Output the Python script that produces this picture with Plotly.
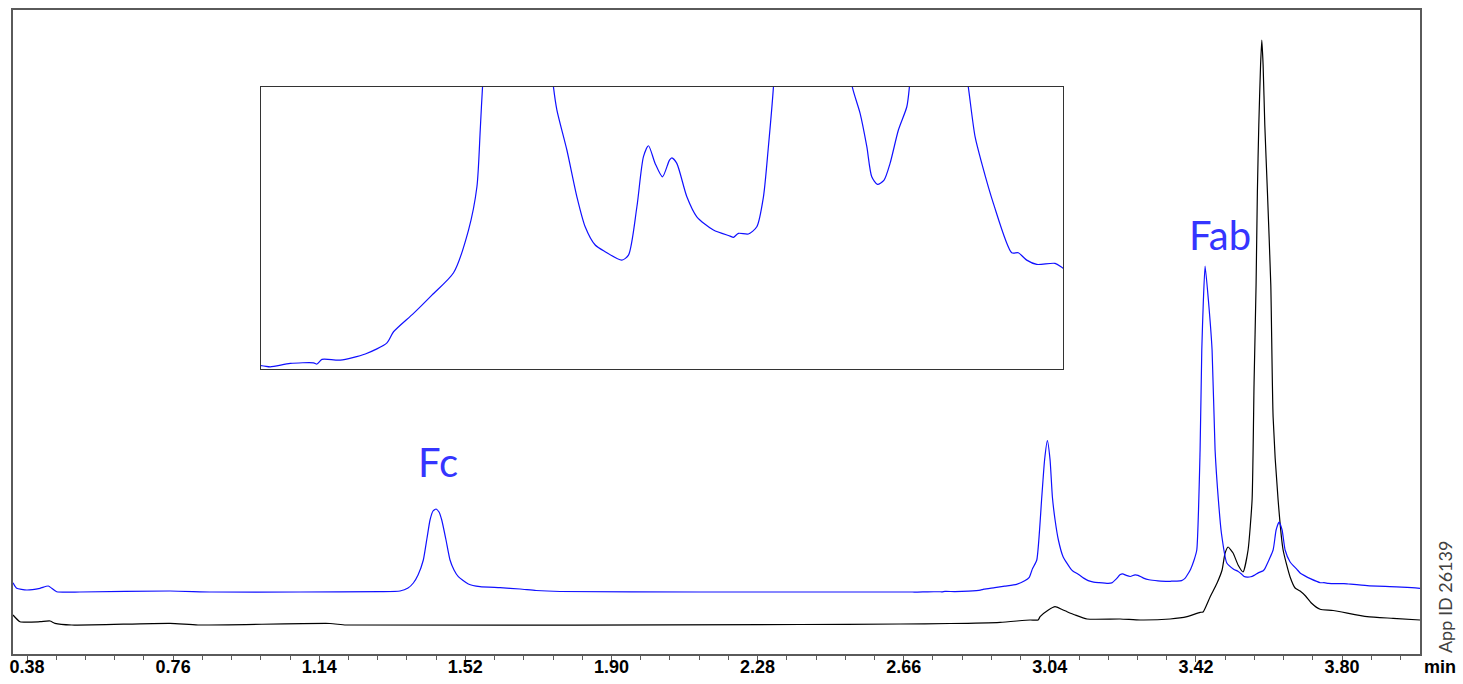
import plotly.graph_objects as go

# ---- data (retention time in min, absorbance in arbitrary mAU-like units) ----
blue_time = [0.3436, 0.3532, 0.3792, 0.4138, 0.4354, 0.4572, 0.5178, 0.7519, 0.8611, 1.0900,
             1.2981, 1.3501, 1.3709, 1.3847, 1.3969, 1.4107, 1.4203, 1.4281, 1.4359, 1.4437,
             1.4515, 1.4586, 1.4697, 1.4801, 1.4905, 1.5017, 1.5277, 1.5581, 1.6102, 1.6622,
             1.7038, 1.7662, 2.1303, 2.5204,
             2.6823, 2.6940, 2.7223, 2.7553, 2.7601, 2.7672, 2.7931, 2.8285, 2.8592, 2.8685,
             2.8968, 2.9228, 2.9534, 2.9746, 2.9865, 2.9912, 2.9944,
             3.0060, 3.0190, 3.0263, 3.0336, 3.0406, 3.0466, 3.0536, 3.0622, 3.0744,
             3.0949, 3.0997, 3.1138, 3.1280, 3.1397, 3.1539, 3.1680, 3.1916, 3.2010, 3.2129,
             3.2222, 3.2293, 3.2387, 3.2491, 3.2590, 3.2624, 3.2694, 3.2836, 3.2977, 3.3212,
             3.3449, 3.3495, 3.3566, 3.3707, 3.3826, 3.3920, 3.3990, 3.4061,
             3.4151, 3.4221, 3.4307, 3.4351, 3.4393, 3.4437, 3.4523, 3.4619, 3.4697, 3.4783,
             3.4861, 3.5002,
             3.5179, 3.5288, 3.5383, 3.5453, 3.5533, 3.5627, 3.5712, 3.5830, 3.5949, 3.5985,
             3.6206, 3.6284, 3.6362, 3.6440, 3.6518, 3.6648,
             3.6820, 3.6915, 3.7010, 3.7174, 3.7434, 3.7527, 3.7646, 3.7788, 3.8047, 3.8164,
             3.8651, 3.9690, 4.0026]
blue_abs = [4.23, 3.67, 3.50, 3.67, 3.90, 3.33, 3.30, 3.40, 3.30, 3.30,
            3.33, 3.40, 3.70, 4.20, 5.00, 6.50, 8.70, 10.50, 11.40, 11.60,
            11.30, 10.50, 8.50, 6.50, 5.50, 4.83, 4.10, 3.83, 3.73, 3.60,
            3.45, 3.35, 3.30, 3.30,
            3.301, 3.292, 3.320, 3.325, 3.315, 3.353, 3.347, 3.397, 3.489, 3.580,
            3.731, 3.881, 4.064, 4.415, 4.770, 5.236, 5.586,
            6.50, 12.80, 16.50, 18.43, 16.50, 12.80, 10.50, 8.50, 6.83,
            5.586, 5.400, 5.072, 4.688, 4.442, 4.292, 4.237, 4.168, 4.209, 4.606,
            5.017, 5.107, 4.962, 4.852, 4.989, 5.008, 4.962, 4.688, 4.524, 4.415,
            4.365, 4.355, 4.388, 4.382, 4.442, 4.688, 5.099, 5.586,
            6.50, 7.50, 17.50, 27.50, 32.50, 35.90, 32.50, 27.50, 17.50, 12.50,
            9.20, 6.20,
            5.586, 5.373, 5.099, 4.852, 4.790, 4.825, 4.962, 5.236, 5.427, 5.586,
            7.50, 9.50, 10.30, 9.50, 7.50, 6.30,
            5.586, 5.181, 4.962, 4.634, 4.228, 4.228, 4.168, 4.133, 4.141, 4.100,
            3.93, 3.77, 3.67]

black_time = [0.3436, 0.3618, 0.4138, 0.4398, 0.4528, 0.4963, 0.7519, 0.8247, 1.1680, 1.2100,
              2.3904, 2.6505, 2.7805, 2.9106, 2.9886, 3.0094, 3.0146, 3.0362, 3.0536, 3.0718,
              3.0848, 3.1056, 3.1368, 3.2227, 3.2747, 3.3527, 3.3969, 3.4307, 3.4385, 3.4567,
              3.4749, 3.4879, 3.4957, 3.5035, 3.5165, 3.5295, 3.5425, 3.5555, 3.5659, 3.5711,
              3.5763, 3.5797, 3.5834, 3.5880, 3.5912, 3.5946, 3.5990, 3.6058, 3.6146, 3.6206,
              3.6336, 3.6466, 3.6648, 3.6778, 3.6908, 3.7050, 3.7200, 3.7428, 3.7766,
              3.8651, 3.9327, 4.0026]
black_abs = [1.00, 0.33, 0.33, 0.40, 0.17, 0.00, 0.17, 0.00, 0.15, 0.00,
             0.05, 0.10, 0.15, 0.27, 0.50, 0.50, 0.83, 1.50, 1.83, 1.55,
             1.33, 1.00, 0.60, 0.60, 0.50, 0.60, 0.83, 1.27, 1.30, 2.80,
             4.20, 5.50, 7.20, 7.80, 7.20, 6.00, 5.30, 7.50, 12.50, 24.20,
             34.00, 43.30, 50.00, 56.00, 58.50, 56.00, 50.00, 43.30, 34.00, 20.80,
             12.50, 7.50, 4.80, 3.70, 3.40, 2.90, 2.20, 1.57, 1.45,
             0.83, 0.67, 0.50]

tick_vals = [0.38, 0.76, 1.14, 1.52, 1.90, 2.28, 2.66, 3.04, 3.42, 3.80]
tick_text = ["0.38", "0.76", "1.14", "1.52", "1.90", "2.28", "2.66", "3.04", "3.42", "3.80"]

peak_labels = ["Fc", "Fab"]
peak_label_x = [1.4489, 3.4827]
peak_label_y = [16.3, 39.0]

x_range = [0.3436, 4.0026]
y_range = [-2.9, 61.5]
inset_x_range = [2.681, 3.816]
inset_y_range = [3.274, 5.589]

BLUE = "#1010ff"
LABEL_BLUE = "#3535ff"

fig = go.Figure()

fig.add_trace(go.Scatter(x=black_time, y=black_abs, mode="lines",
                         line=dict(color="black", width=1.2, shape="spline", smoothing=0.5),
                         hoverinfo="skip", showlegend=False))
fig.add_trace(go.Scatter(x=blue_time, y=blue_abs, mode="lines",
                         line=dict(color=BLUE, width=1.2, shape="spline", smoothing=0.5),
                         hoverinfo="skip", showlegend=False))
# inset: same blue trace, zoomed
fig.add_trace(go.Scatter(x=blue_time, y=blue_abs, mode="lines", xaxis="x2", yaxis="y2",
                         line=dict(color=BLUE, width=1.2, shape="spline", smoothing=0.7),
                         hoverinfo="skip", showlegend=False))

for t, xx, yy in zip(peak_labels, peak_label_x, peak_label_y):
    fig.add_annotation(x=xx, y=yy, xref="x", yref="y", text=t, showarrow=False,
                       font=dict(family="Lato", size=40, color=LABEL_BLUE),
                       xanchor="center", yanchor="middle")

fig.add_annotation(x=1.0142, y=-0.0202, xref="paper", yref="paper", text="min",
                   showarrow=False, xanchor="center", yanchor="middle",
                   font=dict(family="Liberation Sans", size=18, color="black", weight="bold"))
fig.add_annotation(x=1.0178, y=0.0885, xref="paper", yref="paper", text="App ID 26139",
                   showarrow=False, textangle=-90, xanchor="center", yanchor="middle",
                   font=dict(family="Lato", size=18, color="#404040"))

fig.update_layout(
    width=1463, height=684,
    margin=dict(l=13, r=43, t=10, b=30, autoexpand=False),
    paper_bgcolor="white", plot_bgcolor="white",
    xaxis=dict(range=x_range, showgrid=False, zeroline=False, automargin=False,
               showline=True, mirror=True, linecolor="#5a5a5a", linewidth=1.5,
               tickmode="array", tickvals=tick_vals, ticktext=tick_text,
               ticks="outside", ticklen=6, tickwidth=1, tickcolor="#5a5a5a",
               ticklabelstandoff=-10,
               tickfont=dict(family="Liberation Sans", size=18, color="black", weight="bold"),
               minor=dict(ticks="outside", ticklen=4, tickcolor="#5a5a5a",
                          tick0=0.38, dtick=0.076, showgrid=False)),
    yaxis=dict(range=y_range, showgrid=False, zeroline=False, showticklabels=False,
               automargin=False,
               showline=True, mirror=True, linecolor="#5a5a5a", linewidth=1.5, ticks=""),
    xaxis2=dict(domain=[0.1763, 0.7463], anchor="y2", range=inset_x_range,
                showgrid=False, zeroline=False, showticklabels=False, ticks="",
                automargin=False,
                showline=True, mirror=True, linecolor="#333333", linewidth=1.2),
    yaxis2=dict(domain=[0.4425, 0.8804], anchor="x2", range=inset_y_range,
                showgrid=False, zeroline=False, showticklabels=False, ticks="",
                automargin=False,
                showline=True, mirror=True, linecolor="#333333", linewidth=1.2),
)

fig.write_html("out.html", config={"displayModeBar": False},
               post_script="document.body.style.margin='0';document.body.style.overflow='hidden';")
